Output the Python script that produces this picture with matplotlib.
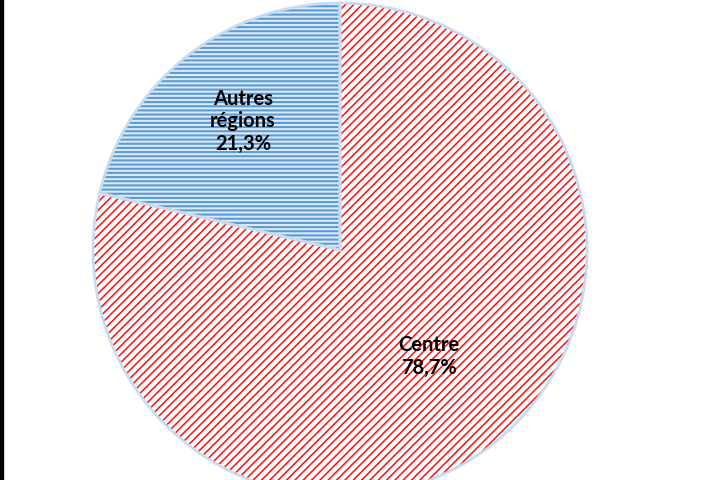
import matplotlib
matplotlib.use("Agg")
import matplotlib.pyplot as plt
from matplotlib.patches import Rectangle
import numpy as np

categories = ["Autres\nrégions", "Centre"]
values = [21.3, 78.7]
value_labels = ["21,3%", "78,7%"]

face_colors = ["#dce9f6", "white"]
hatch_colors = ["#5b9bd5", "#ff1010"]
hatches = ["----", "////"]
hatch_lw = [1.5, 1.1]
label_dist = [0.665, 0.55]

plt.rcParams["hatch.linewidth"] = 1.5

fig = plt.figure(figsize=(7.05, 4.8), dpi=100)
ax = fig.add_axes([93 / 705, (480 - 497) / 480, 494 / 705, 494 / 480])

wedges, _ = ax.pie(values, startangle=90, counterclock=True, radius=1.0,
                   wedgeprops=dict(linewidth=0))
for w, fc, hc, h, hl in zip(wedges, face_colors, hatch_colors, hatches, hatch_lw):
    w.set_facecolor(fc)
    w.set_edgecolor(hc)
    w.set_hatch(h)
    w.set_linewidth(0)
    try:
        w.set_hatch_linewidth(hl)
    except AttributeError:
        pass

# light blue outline
wedges2, _ = ax.pie(values, startangle=90, counterclock=True, radius=1.0,
                    wedgeprops=dict(fill=False, edgecolor="#c9dcef", linewidth=2))

offsets = [(0.02, 0.0), (0.02, 0.0)]
for w, cat, vl, d, off in zip(wedges, categories, value_labels, label_dist, offsets):
    ang = np.deg2rad((w.theta1 + w.theta2) / 2)
    x, y = d * np.cos(ang) + off[0], d * np.sin(ang) + off[1]
    ax.text(x, y, f"{cat}\n{vl}", ha="center", va="center", fontsize=14.5,
            fontweight="bold", family=["Lato", "DejaVu Sans"], linespacing=1.15,
            color="black")

ax.set_xlim(-1, 1)
ax.set_ylim(-1, 1)
ax.set_aspect("equal")
ax.axis("off")

fig.add_artist(Rectangle((0, 0), 2.5 / 705, 1, transform=fig.transFigure,
                         color="black"))

fig.savefig("out.png", dpi=100)
